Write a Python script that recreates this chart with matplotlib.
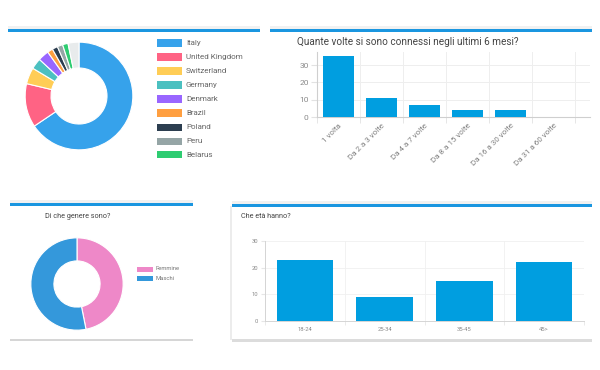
"""
    survey dashboard: countries, connections, gender, age
"""
import numpy as np
import matplotlib
matplotlib.use("Agg")
import matplotlib.pyplot as plt
from matplotlib.patches import Rectangle

plt.rcParams['font.family'] = ['Roboto', 'DejaVu Sans']

# --- data ---
countries = ["Italy", "United Kingdom", "Switzerland", "Germany", "Denmark",
             "Brazil", "Poland", "Peru", "Belarus", ""]
country_counts = [40, 8, 3, 2, 2, 1, 1, 1, 1, 2]
country_colors = ["#36a2eb", "#ff6384", "#ffcd56", "#4bc0c0", "#9966ff",
                  "#ff9f40", "#2c3e50", "#95a5a6", "#2ecc71", "#e8ebec"]

conn_labels = ["1 volta", "Da 2 a 3 volte", "Da 4 a 7 volte", "Da 8 a 15 volte",
               "Da 16 a 30 volte", "Da 31 a 60 volte"]
conn_counts = [35, 11, 7, 4, 4, 0]

gender_labels = ["Femmine", "Maschi"]
gender_counts = [30, 34]
gender_colors = ["#ee88c8", "#3498db"]

age_labels = ["18-24", "25-34", "35-45", "45>"]
age_counts = [23, 9, 15, 22]

BAR = "#009ee0"
W, H = 600, 370


def box(x, y, w, h):
    # pixel box (top-left origin) -> figure fraction
    return [x / W, 1 - (y + h) / H, w / W, h / H]


def rect(fig, x, y, w, h, color):
    fig.add_artist(Rectangle((x / W, 1 - (y + h) / H), w / W, h / H,
                             transform=fig.transFigure, color=color, lw=0))


def text(fig, x, y, s, **kw):
    fig.text(x / W, 1 - y / H, s, **kw)


fig = plt.figure(figsize=(6, 3.7), dpi=100)
fig.patch.set_facecolor("white")

# cards
for (x, y, w) in [(8, 30, 252), (270, 30, 322), (10, 204, 183), (232, 205, 360)]:
    rect(fig, x, y - 4, w, 4, "#f1f1f1")
    rect(fig, x, y - 1, w, 2.5, "#1a96e0")
rect(fig, 10, 339, 183, 2, "#d6d6d6")
rect(fig, 232, 339, 360, 2.5, "#dcdcdc")
rect(fig, 230, 206, 2, 134, "#ececec")

# --- countries donut ---
ax = fig.add_axes(box(79 - 56, 96 - 56, 112, 112))
ax.pie(country_counts, colors=country_colors, startangle=90, counterclock=False,
       wedgeprops=dict(width=0.48, edgecolor="white", linewidth=0.8))
ax.set_xlim(-1.04, 1.04)
ax.set_ylim(-1.04, 1.04)
ax.set_aspect("equal")

for i, (lab, col) in enumerate(zip(countries[:9], country_colors[:9])):
    yy = 43 + 14 * i
    rect(fig, 157, yy - 3.5, 25, 7, col)
    text(fig, 186, yy, lab, fontsize=5.8, color="#666666", va="center")

# --- connections bar chart ---
text(fig, 297, 42, "Quante volte si sono connessi negli ultimi 6 mesi?",
     fontsize=7.2, color="#444444", va="center")
ax = fig.add_axes(box(317, 52, 273, 65))
x = np.arange(len(conn_counts))
ax.bar(x, conn_counts, width=0.72, color=BAR, zorder=3)
ax.set_xlim(-0.5, 5.85)
ax.set_ylim(0, 37.5)
ax.set_yticks([0, 10, 20, 30])
ax.set_xticks(x)
ax.set_xticklabels(conn_labels, rotation=45, ha="right", rotation_mode="anchor")
ax.set_xticks(np.arange(-0.5, 6, 1), minor=True)
ax.tick_params(axis="x", which="major", length=0, pad=4, labelsize=5.8, labelcolor="#808080")
ax.tick_params(axis="x", which="minor", length=4, color="#e2e2e2")
ax.tick_params(axis="y", length=4, color="#e2e2e2", labelsize=6, labelcolor="#8a8a8a", pad=2)
ax.grid(True, axis="y", color="#eeeeee", lw=0.7, zorder=0)
ax.grid(True, axis="x", which="minor", color="#eeeeee", lw=0.7, zorder=0)
for s in ["top", "right"]:
    ax.spines[s].set_visible(False)
for s in ["left", "bottom"]:
    ax.spines[s].set_color("#cfcfcf")
    ax.spines[s].set_linewidth(0.8)

# --- gender donut ---
text(fig, 45, 217, "Di che genere sono?", fontsize=5.2, color="#444444", va="center")
ax = fig.add_axes(box(77 - 48, 284 - 48, 96, 96))
ax.pie(gender_counts, colors=gender_colors, startangle=90, counterclock=False,
       wedgeprops=dict(width=0.5, edgecolor="white", linewidth=0.8))
ax.set_xlim(-1.04, 1.04)
ax.set_ylim(-1.04, 1.04)
ax.set_aspect("equal")
for i, (lab, col) in enumerate(zip(gender_labels, gender_colors)):
    yy = 269 + 9.5 * i
    rect(fig, 137, yy - 2.5, 16, 5, col)
    text(fig, 156, yy, lab, fontsize=4.2, color="#777777", va="center")

# --- age bar chart ---
text(fig, 241, 217, "Che età hanno?", fontsize=5.2, color="#444444", va="center")
ax = fig.add_axes(box(265, 241, 319, 80))
x = np.arange(len(age_counts))
ax.bar(x, age_counts, width=0.71, color=BAR, zorder=3)
ax.set_xlim(-0.5, 3.5)
ax.set_ylim(0, 30)
ax.set_yticks([0, 10, 20, 30])
ax.set_xticks(x)
ax.set_xticklabels(age_labels)
ax.set_xticks(np.arange(-0.5, 4, 1), minor=True)
ax.tick_params(axis="x", which="major", length=0, pad=4, labelsize=4.2, labelcolor="#8a8a8a")
ax.tick_params(axis="x", which="minor", length=3, color="#e6e6e6")
ax.tick_params(axis="y", length=3, color="#e6e6e6", labelsize=4.2, labelcolor="#8a8a8a", pad=2)
ax.grid(True, axis="y", color="#f0f0f0", lw=0.6, zorder=0)
ax.grid(True, axis="x", which="minor", color="#f0f0f0", lw=0.6, zorder=0)
for s in ["top", "right"]:
    ax.spines[s].set_visible(False)
for s in ["left", "bottom"]:
    ax.spines[s].set_color("#d5d5d5")
    ax.spines[s].set_linewidth(0.7)

fig.savefig("out.png", dpi=100)
